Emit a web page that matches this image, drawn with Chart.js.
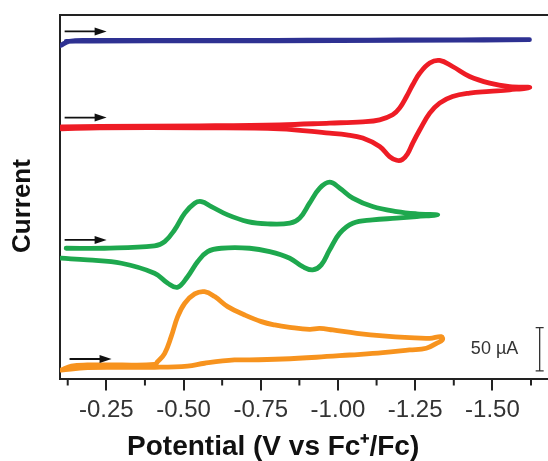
<!DOCTYPE html>
<html>
<head>
<meta charset="utf-8">
<script src="https://cdn.jsdelivr.net/npm/chart.js@4.4.1/dist/chart.umd.min.js"></script>
<style>
  html, body { margin: 0; padding: 0; background: #fff; overflow: hidden; }
  #wrap { width: 548px; height: 461px; position: relative; }
</style>
</head>
<body>
<div id="wrap"><canvas id="cv"></canvas></div>
<script>
// --- data (potential in V vs Fc+/Fc, current in µA, stacked) ---
const bluePotential = [-0.10, -0.13, -0.20, -0.40, -0.60, -0.80, -1.00, -1.20, -1.40, -1.62, -1.40, -1.00, -0.60, -0.20, -0.12];
const blueCurrent   = [384, 389, 390, 390, 390, 390.2, 390.4, 390.6, 390.8, 391, 390.4, 389.9, 389.6, 389.4, 389];

const redPotential = [-0.105, -0.228, -0.552, -0.811, -0.973, -1.080, -1.135, -1.177, -1.200, -1.222, -1.242, -1.265, -1.297, -1.329, -1.371, -1.426, -1.491, -1.556, -1.621,
  -1.556, -1.491, -1.426, -1.371, -1.329, -1.297, -1.265, -1.242, -1.225, -1.208, -1.190, -1.167, -1.135, -1.080, -1.028, -0.973, -0.811, -0.552, -0.228, -0.105];
const redCurrent = [290.4, 291.0, 291.6, 292.7, 294.7, 296.2, 298.5, 304.3, 312.3, 325.4, 338.9, 352.4, 364.0, 367.0, 360.0, 348.5, 340.9, 336.9, 335.8,
  333.1, 331.2, 329.3, 325.4, 317.8, 306.2, 287.0, 271.6, 259.0, 252.5, 251.8, 256.1, 267.7, 277.4, 281.2, 283.1, 288.1, 289.2, 289.2, 288.1];

const greenPotential = [-0.120, -0.244, -0.406, -0.439, -0.471, -0.504, -0.536, -0.558, -0.590, -0.643, -0.708, -0.772, -0.844, -0.876, -0.908, -0.941, -0.973, -1.006, -1.048, -1.112, -1.190, -1.255, -1.323,
  -1.255, -1.190, -1.112, -1.048, -1.006, -0.973, -0.946, -0.918, -0.886, -0.844, -0.779, -0.714, -0.622, -0.578, -0.546, -0.513, -0.481, -0.449, -0.406, -0.299, -0.189, -0.104];
const greenCurrent = [150.3, 150.3, 153.0, 158.0, 171.5, 190.8, 202.3, 204.2, 198.4, 188.8, 181.1, 178.4, 179.2, 185.0, 202.3, 219.6, 226.5, 219.6, 208.1, 198.4, 192.6, 190.0, 188.8,
  186.8, 185.0, 183.0, 179.2, 167.7, 148.4, 131.1, 125.3, 129.1, 138.8, 146.4, 150.3, 150.3, 146.4, 134.9, 117.5, 105.3, 109.9, 121.5, 133.0, 136.8, 138.8];

const orangePotential = [-0.104, -0.137, -0.189, -0.293, -0.406, -0.416, -0.439, -0.460, -0.481, -0.504, -0.536, -0.568, -0.601, -0.643, -0.698, -0.752, -0.795, -0.844, -0.908, -0.941, -0.983, -1.061, -1.145, -1.232, -1.297, -1.335, -1.338,
  -1.319, -1.286, -1.232, -1.145, -1.038, -0.930, -0.821, -0.714, -0.665, -0.568, -0.513, -0.406, -0.299, -0.189, -0.104];
const orangeCurrent = [9.8, 14.4, 15.6, 15.6, 16.2, 19.4, 29.1, 48.3, 71.4, 86.8, 97.6, 100.2, 94.5, 82.9, 73.3, 65.6, 61.8, 59.1, 56.8, 57.8, 56.0, 52.2, 49.1, 47.1, 46.4, 48.3, 44.5,
  40.6, 34.9, 32.9, 29.8, 27.1, 24.5, 22.5, 21.4, 21.4, 17.6, 14.4, 12.9, 12.9, 12.5, 9.8];

// scan direction arrows (one per trace, top to bottom)
const arrowStart = [-0.115, -0.115, -0.115, -0.131];
const arrowEnd   = [-0.251, -0.251, -0.251, -0.267];
const arrowLevel = [400.5, 301.1, 159.9, 22.5];

// 50 µA scale bar
const scaleBarPotential = -1.653;
const scaleBarCurrent = [8.7, 58.7];
const scaleBarLabel = '50 µA';

const tickValues = [-0.125, -0.25, -0.375, -0.5, -0.625, -0.75, -0.875, -1.0, -1.125, -1.25, -1.375, -1.5, -1.625];
const xTitle = 'Potential (V vs Fc\u207A/Fc)';
const yTitle = 'Current';

const FONT = '"Liberation Sans", Arial, Helvetica, sans-serif';

function toPoints(xs, ys) {
    return xs.map((x, i) => ({ x: x, y: ys[i] }));
}
function isMajor(v) {
    return Math.round(Math.abs(v) / 0.125) % 2 === 0;
}

function trace(xs, ys, color) {
    return {
        data: toPoints(xs, ys),
        borderColor: color,
        borderWidth: 4.8,
        showLine: true,
        pointRadius: 0,
        tension: 0.4,
        borderCapStyle: 'round',
        borderJoinStyle: 'round'
    };
}

// extra marks: minor ticks, arrows, scale bar, titles
const decorPlugin = {
    id: 'decor',
    afterDraw(chart) {
        const { ctx, scales: { x, y }, chartArea } = chart;
        ctx.save();

        // minor ticks
        ctx.strokeStyle = '#222';
        ctx.lineWidth = 2;
        tickValues.filter(v => !isMajor(v)).forEach(v => {
            const px = x.getPixelForValue(v);
            ctx.beginPath();
            ctx.moveTo(px, chartArea.bottom);
            ctx.lineTo(px, chartArea.bottom + 7);
            ctx.stroke();
        });

        // arrows
        ctx.strokeStyle = '#111';
        ctx.fillStyle = '#111';
        ctx.lineWidth = 1.8;
        arrowLevel.forEach((lvl, i) => {
            const x0 = x.getPixelForValue(arrowStart[i]);
            const x1 = x.getPixelForValue(arrowEnd[i]);
            const py = y.getPixelForValue(lvl);
            ctx.beginPath();
            ctx.moveTo(x0, py);
            ctx.lineTo(x1 - 8, py);
            ctx.stroke();
            ctx.beginPath();
            ctx.moveTo(x1, py);
            ctx.lineTo(x1 - 12, py - 4);
            ctx.lineTo(x1 - 12, py + 4);
            ctx.closePath();
            ctx.fill();
        });

        // scale bar
        const bx = x.getPixelForValue(scaleBarPotential);
        const by0 = y.getPixelForValue(scaleBarCurrent[0]);
        const by1 = y.getPixelForValue(scaleBarCurrent[1]);
        ctx.strokeStyle = '#333';
        ctx.lineWidth = 1.3;
        ctx.beginPath();
        ctx.moveTo(bx, by0); ctx.lineTo(bx, by1);
        ctx.moveTo(bx - 4, by0); ctx.lineTo(bx + 4, by0);
        ctx.moveTo(bx - 4, by1); ctx.lineTo(bx + 4, by1);
        ctx.stroke();
        ctx.fillStyle = '#333';
        ctx.font = '18px ' + FONT;
        ctx.textAlign = 'center';
        ctx.textBaseline = 'middle';
        ctx.fillText(scaleBarLabel, x.getPixelForValue(-1.507), (by0 + by1) / 2);

        // axis titles
        ctx.fillStyle = '#111';
        ctx.font = 'bold 28px ' + FONT;
        ctx.fillText(xTitle, x.getPixelForValue(-0.79), chartArea.bottom + 69);
        ctx.translate(23, y.getPixelForValue(199));
        ctx.rotate(-Math.PI / 2);
        ctx.font = 'bold 26px ' + FONT;
        ctx.fillText(yTitle, 0, 0);

        ctx.restore();
    }
};

document.addEventListener('DOMContentLoaded', () => {
    const ctx = document.getElementById('cv').getContext('2d');
    new Chart(ctx, {
        type: 'scatter',
        data: {
            datasets: [
                trace(bluePotential, blueCurrent, '#2e3192'),
                trace(redPotential, redCurrent, '#ee1c25'),
                trace(greenPotential, greenCurrent, '#1ea84e'),
                trace(orangePotential, orangeCurrent, '#f7931e')
            ]
        },
        options: {
            responsive: true,
            maintainAspectRatio: false,
            animation: false,
            layout: { padding: 0 },
            plugins: { legend: { display: false }, tooltip: { enabled: false } },
            scales: {
                x: {
                    type: 'linear',
                    position: 'bottom',
                    reverse: true,
                    min: -1.68,
                    max: -0.10,
                    afterBuildTicks: scale => { scale.ticks = tickValues.map(v => ({ value: v })); },
                    afterFit: scale => { scale.height = 82.5; },
                    ticks: {
                        autoSkip: false,
                        maxRotation: 0,
                        padding: 5,
                        color: '#333',
                        font: { family: FONT, size: 24 },
                        callback: v => isMajor(v) ? v.toFixed(2) : ''
                    },
                    grid: {
                        display: true,
                        drawOnChartArea: false,
                        drawTicks: true,
                        tickLength: 12,
                        lineWidth: 2,
                        color: c => (c.tick && isMajor(c.tick.value)) ? '#222' : 'rgba(0,0,0,0)'
                    },
                    border: { display: true, color: '#222', width: 2 }
                },
                x2: {
                    type: 'linear',
                    position: 'top',
                    reverse: true,
                    min: -1.68,
                    max: -0.10,
                    afterFit: scale => { scale.height = 14.5; },
                    ticks: { display: false },
                    grid: { display: false, drawTicks: false },
                    border: { display: true, color: '#222', width: 2 }
                },
                y: {
                    type: 'linear',
                    min: 0,
                    max: 420,
                    afterFit: scale => { scale.width = 60; },
                    ticks: { display: false },
                    grid: { display: false, drawTicks: false },
                    border: { display: true, color: '#222', width: 2 }
                }
            }
        },
        plugins: [decorPlugin]
    });
});
</script>
</body>
</html>
